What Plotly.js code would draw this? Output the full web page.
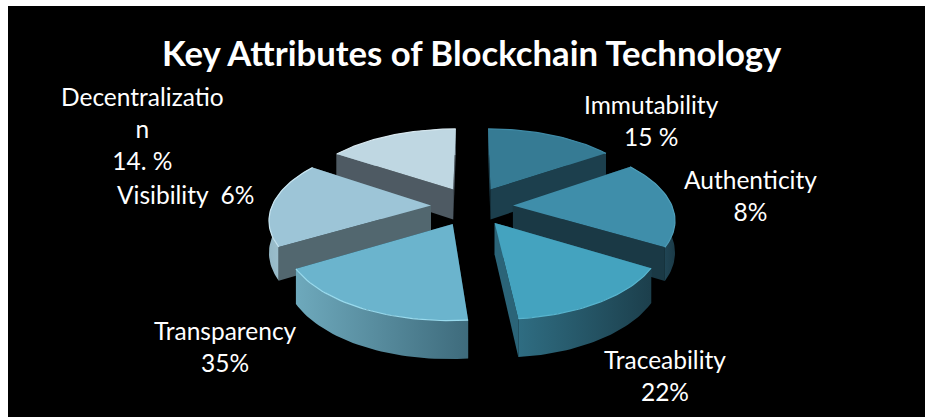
<!DOCTYPE html>
<html><head><meta charset="utf-8"><script src="https://cdn.plot.ly/plotly-3.0.0.min.js"></script>
<style>html,body{margin:0;padding:0;background:#fff}#c{width:925px;height:417px}</style></head>
<body><div id="c"></div><script>
const chartTitle = "Key Attributes of Blockchain Technology";
const categories = ["Immutability","Authenticity","Traceability","Transparency","Visibility","Decentralization"];
const sliceShares = [15.5,18.1,14.85,18.05,17.8,15.7];
const labelLines = ["Immutability<br>15 %","Authenticity<br>8%","Traceability<br>22%","Transparency<br>35%","Visibility  6%","Decentralizatio<br>n<br>14. %"];
const labelX = [651,750,665,225,185,142];
const labelY = [120,195,375,346,194,128];
const topColors = ["#367b94","#3f8eaa","#44a3bf","#6bb4cd","#9dc5d7","#bfd7e2"];
const edgeColors = ["#3f8aa6","#4f9fba","#58b4ce","#9adbee","#c8e6f2","#d6e6ee"];
const cutColors = ["#1c3f4d","#1a3945","#2b6478","#1d4250","#52676f","#4e5a63"];
const wallStart = ["#2a5f72","#2f6a80","#2f6d82","#6ea9bc","#94b8c6","#8fa6b0"];
const wallEnd = ["#1c3f4d","#1b3a47","#1c3f4c","#3e6b7c","#b5d3df","#a8c0ca"];

const cx=472, cy=206, Rx=159, Ry=75, H=31, d=6.3, ex=0.258;
function proj(X,Y,z){const s=d/(d-Y);return [cx+Rx*X*s, cy+Ry*Y*s+z*H*s];}
const total=sliceShares.reduce((a,b)=>a+b,0);
const traces=[];
function poly(pts,o){traces.push(Object.assign({x:pts.map(p=>p[0]),y:pts.map(p=>p[1]),mode:'lines',line:{width:0},fill:'toself',hoverinfo:'skip',showlegend:false,type:'scatter'},o));}
let acc=0; const geo=[];
sliceShares.forEach((v,i)=>{
  const a0=acc/total*2*Math.PI; acc+=v; const a1=acc/total*2*Math.PI; const m=(a0+a1)/2;
  const ax=ex*Math.sin(m), ay=-ex*Math.cos(m);
  const arc=[]; const n=40;
  for(let k=0;k<=n;k++){const t=a0+(a1-a0)*k/n;arc.push([ax+Math.sin(t),ay-Math.cos(t)]);}
  geo.push({i,ax,ay,arc,m});
});
function facesViewer(apex,rim,inner){
  const ex_=rim[0]-apex[0], ey=rim[1]-apex[1];
  return ex_*(inner[1]-apex[1])-ey*(inner[0]-apex[0]) < 0 ? ex_>0 : ex_<0;
}
const order=[0,5,1,4,2,3];
order.forEach(i=>{
  const g=geo[i];
  const top=g.arc.map(p=>proj(p[0],p[1],0));
  const bot=g.arc.map(p=>proj(p[0],p[1],1));
  const apexT=proj(g.ax,g.ay,0), apexB=proj(g.ax,g.ay,1);
  const xs=top.concat(bot).map(p=>p[0]);
  const w0=Math.min(...xs), w1=Math.max(...xs);
  const inner=top[20];
  const cuts=[top.length-1,0].map(k=>({pts:[apexT,top[k],bot[k],apexB],front:facesViewer(apexT,top[k],inner)}));
  cuts.filter(c=>!c.front).forEach(c=>poly(c.pts,{fillcolor:cutColors[i]}));
  poly(top.concat(bot.slice().reverse()),{fillcolor:wallEnd[i],fillgradient:{type:'horizontal',start:w0,stop:w1,colorscale:[[0,wallStart[i]],[1,wallEnd[i]]]}});
  cuts.filter(c=>c.front).forEach(c=>poly(c.pts,{fillcolor:cutColors[i]}));
  poly([apexT].concat(top),{fillcolor:topColors[i]});
  traces.push({x:top.map(p=>p[0]),y:top.map(p=>p[1]),mode:'lines',line:{width:1.2,color:edgeColors[i]},hoverinfo:'skip',showlegend:false,type:'scatter'});
});
const annotations=categories.map((c,i)=>({x:labelX[i],y:labelY[i],xref:'x',yref:'y',text:labelLines[i],showarrow:false,xanchor:'center',yanchor:'middle',align:'center',font:{family:'Lato, Carlito, sans-serif',size:24.5,color:'#fff'}}));
Plotly.newPlot('c',traces,{
  width:925,height:417,margin:{l:8,r:0,t:6,b:0,pad:0},paper_bgcolor:'#fff',plot_bgcolor:'#000',showlegend:false,
  title:{text:chartTitle,x:0.51,xanchor:'center',y:0.872,yanchor:'middle',font:{family:'Lato, Carlito, sans-serif',size:34.7,color:'#fff',weight:700}},
  xaxis:{range:[8,925],visible:false,fixedrange:true},
  yaxis:{range:[417,6],visible:false,fixedrange:true},
  annotations
},{displayModeBar:false,staticPlot:true});
</script></body></html>
